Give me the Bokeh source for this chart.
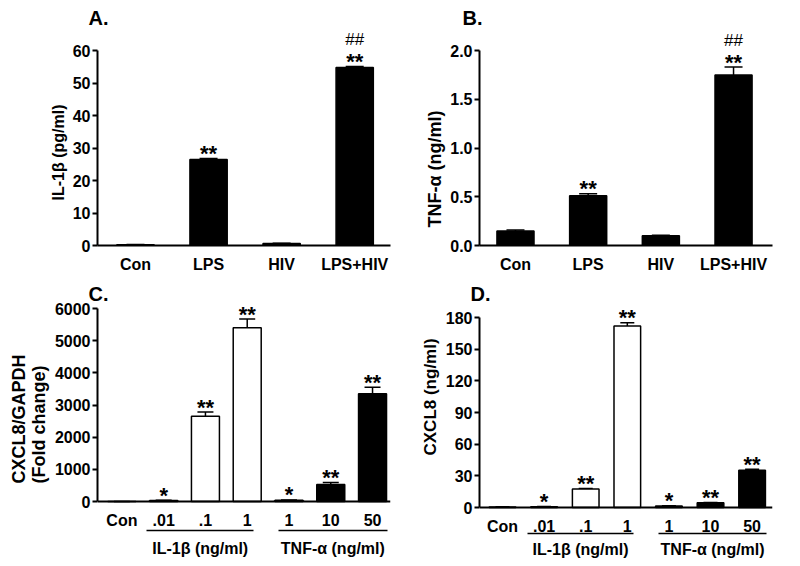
from bokeh.plotting import figure
from bokeh.layouts import column, row
from bokeh.models import (FixedTicker, Whisker, TeeHead, LinearAxis, ColumnDataSource,
                          Range1d, NumeralTickFormatter, Title)
from bokeh.core.properties import value
from bokeh.embed import file_html
from bokeh.resources import INLINE

FONT = "Liberation Sans"

# ---------------- data ----------------
# Panel A: IL-1beta
a_cats = ["Con", "LPS", "HIV", "LPS+HIV"]
a_vals = [0.2, 26.5, 0.6, 54.8]
a_errs = [0.1, 0.3, 0.1, 0.3]
a_stars = ["", "**", "", "**"]
a_hash = ["", "", "", "##"]
a_yticks = [0, 10, 20, 30, 40, 50, 60]

# Panel B: TNF-alpha
b_cats = ["Con", "LPS", "HIV", "LPS+HIV"]
b_vals = [0.15, 0.51, 0.10, 1.75]
b_errs = [0.01, 0.02, 0.005, 0.08]
b_stars = ["", "**", "", "**"]
b_hash = ["", "", "", "##"]
b_yticks = [0.0, 0.5, 1.0, 1.5, 2.0]

# Panel C: CXCL8/GAPDH fold change
c_cats = ["Con", ".01", ".1", "1", "1", "10", "50"]
c_vals = [1, 30, 2650, 5400, 40, 530, 3350]
c_errs = [0, 10, 130, 270, 10, 60, 200]
c_stars = ["", "*", "**", "**", "*", "**", "**"]
c_yticks = [0, 1000, 2000, 3000, 4000, 5000, 6000]

# Panel D: CXCL8 protein
d_cats = ["Con", ".01", ".1", "1", "1", "10", "50"]
d_vals = [0.5, 0.8, 17.6, 172, 1.5, 4.4, 35.3]
d_errs = [0.1, 0.1, 0.4, 3, 0.2, 0.4, 1.0]
d_stars = ["", "*", "**", "**", "*", "**", "**"]
d_yticks = [0, 30, 60, 90, 120, 150, 180]

# treatment groups for C and D (fill colour per bar, group labels)
cd_fill = ["black", "white", "white", "white", "black", "black", "black"]
group_labels = ["IL-1\u03b2 (ng/ml)", "TNF-\u03b1 (ng/ml)"]
group_spans = [(0.6, 3.15), (3.75, 6.35)]


def panel(cats, vals, errs, stars, hashes, yticks, ylabel, letter, *, width, height,
          bl, br, bt, bb, x_range, y_range, bar_w, fills, cap, fmt=None,
          letter_dx=-9, x_fixed=None, ylab_shift=0, ylab_size="16px"):
    n = len(cats)
    xs = list(range(n))
    p = figure(width=width, height=height, output_backend="svg", toolbar_location=None,
               x_range=Range1d(*x_range), y_range=Range1d(*y_range),
               min_border_left=bl, min_border_right=br, min_border_top=bt,
               min_border_bottom=bb)
    p.grid.visible = False
    p.outline_line_color = None
    p.background_fill_color = "white"
    p.border_fill_color = "white"

    p.title.text = letter
    p.title.align = "left"
    p.title.offset = letter_dx
    p.title.standoff = 0
    p.title.text_font = FONT
    p.title.text_font_style = "bold"
    p.title.text_font_size = "20px"
    p.title.text_color = "black"

    for ax in (p.xaxis[0], p.yaxis[0]):
        ax.axis_line_width = 2
        ax.axis_line_color = "black"
        ax.major_tick_line_width = 2
        ax.major_tick_line_color = "black"
        ax.minor_tick_line_color = None
        ax.major_label_text_font = FONT
        ax.major_label_text_font_style = "bold"
        ax.major_label_text_font_size = "16px"
        ax.major_label_text_color = "black"

    p.yaxis.ticker = FixedTicker(ticks=yticks)
    p.yaxis.major_tick_out = 5
    p.yaxis.major_tick_in = 0
    p.yaxis.major_label_standoff = 2
    p.yaxis.bounds = (0, yticks[-1])
    if fmt:
        p.yaxis.formatter = NumeralTickFormatter(format=fmt)
    p.add_layout(Title(text=ylabel, align="left", offset=ylab_shift, standoff=5,
                       text_font=FONT, text_font_style="bold", text_font_size=ylab_size,
                       text_color="black"), "left")

    p.xaxis.ticker = FixedTicker(ticks=xs)
    p.xaxis.major_label_overrides = {i: c for i, c in enumerate(cats)}
    p.xaxis.major_tick_line_color = None
    p.xaxis.major_tick_out = 0
    p.xaxis.major_tick_in = 0
    p.xaxis.major_label_standoff = 10
    if x_fixed is not None:
        p.xaxis.fixed_location = x_fixed

    src = ColumnDataSource(dict(x=xs, top=vals, err=errs,
                                upper=[v + e for v, e in zip(vals, errs)],
                                stars=stars, hashes=hashes, fill=fills))
    p.add_layout(Whisker(base="x", lower="top", upper="upper", source=src,
                         line_color="black", line_width=1.5,
                         upper_head=TeeHead(size=cap, line_width=1.5, line_color="black"),
                         lower_head=None))
    p.vbar(x="x", top="top", width=bar_w, source=src, fill_color="fill",
           line_color="black", line_width=1.5)
    p.text(x="x", y="upper", text="stars", source=src, text_align="center",
           text_baseline="alphabetic", text_font=value(FONT), text_font_style="bold",
           text_font_size="22px", text_color="black", y_offset=-5)
    p.text(x="x", y="upper", text="hashes", source=src, text_align="center",
           text_baseline="alphabetic", text_font=value(FONT), text_font_style="normal",
           text_font_size="17px", text_color="black", y_offset=-27)
    return p


def add_groups(p, y_line, standoff):
    for (x0, x1), lab in zip(group_spans, group_labels):
        c = (x0 + x1) / 2
        ax = LinearAxis(fixed_location=y_line, bounds=(x0, x1),
                        ticker=FixedTicker(ticks=[c]), major_label_overrides={c: lab},
                        axis_line_width=1.5, axis_line_color="black",
                        major_tick_line_color=None, minor_tick_line_color=None,
                        major_tick_in=0, major_tick_out=0,
                        major_label_standoff=standoff,
                        major_label_text_font=FONT, major_label_text_font_style="bold",
                        major_label_text_font_size="16px", major_label_text_color="black")
        p.add_layout(ax, "below")


# pixel scales (px per data unit) used to extend the lower frames below zero
C_PX = 193 / 6000.0
D_PX = 190 / 180.0

pa = panel(a_cats, a_vals, a_errs, a_stars, a_hash, a_yticks, "IL-1\u03b2 (pg/ml)", "A.",
           width=400, height=280, bl=97, br=10, bt=28, bb=35,
           x_range=(-0.52, 3.49), y_range=(0, 60 + 22 / 3.25),
           bar_w=0.51, fills=["black"] * 4, cap=18, letter_dx=-9, ylab_shift=45)
pb = panel(b_cats, b_vals, b_errs, b_stars, b_hash, b_yticks, "TNF-\u03b1 (ng/ml)", "B.",
           width=392, height=280, bl=79, br=20, bt=28, bb=35,
           x_range=(-0.495, 3.536), y_range=(0, 2.0 + 22 / 97.5),
           bar_w=0.51, fills=["black"] * 4, cap=18, fmt="0.0", letter_dx=-17,
           ylab_shift=18, ylab_size="18px")
pc = panel(c_cats, c_vals, c_errs, c_stars, [""] * 7, c_yticks,
           "CXCL8/GAPDH\n(Fold  change)", "C.",
           width=400, height=283, bl=97, br=10, bt=24, bb=3,
           x_range=(-0.584, 6.43), y_range=(-59 / C_PX, 6000 + 4 / C_PX),
           bar_w=0.67, fills=cd_fill, cap=16, letter_dx=-9, x_fixed=0, ylab_shift=77,
           ylab_size="18px")
pd_ = panel(d_cats, d_vals, d_errs, d_stars, [""] * 7, d_yticks, "CXCL8 (ng/ml)", "D.",
            width=392, height=283, bl=79, br=20, bt=24, bb=3,
            x_range=(-0.553, 6.49), y_range=(-53 / D_PX, 180 + 13 / D_PX),
            bar_w=0.64, fills=cd_fill, cap=14, letter_dx=-9, x_fixed=0, ylab_shift=105,
            ylab_size="17px")
add_groups(pc, -29 / C_PX, 9)
add_groups(pd_, -26 / D_PX, 7)

layout = column(row(pa, pb), row(pc, pd_))
open("out.html", "w").write(file_html(layout, INLINE))
